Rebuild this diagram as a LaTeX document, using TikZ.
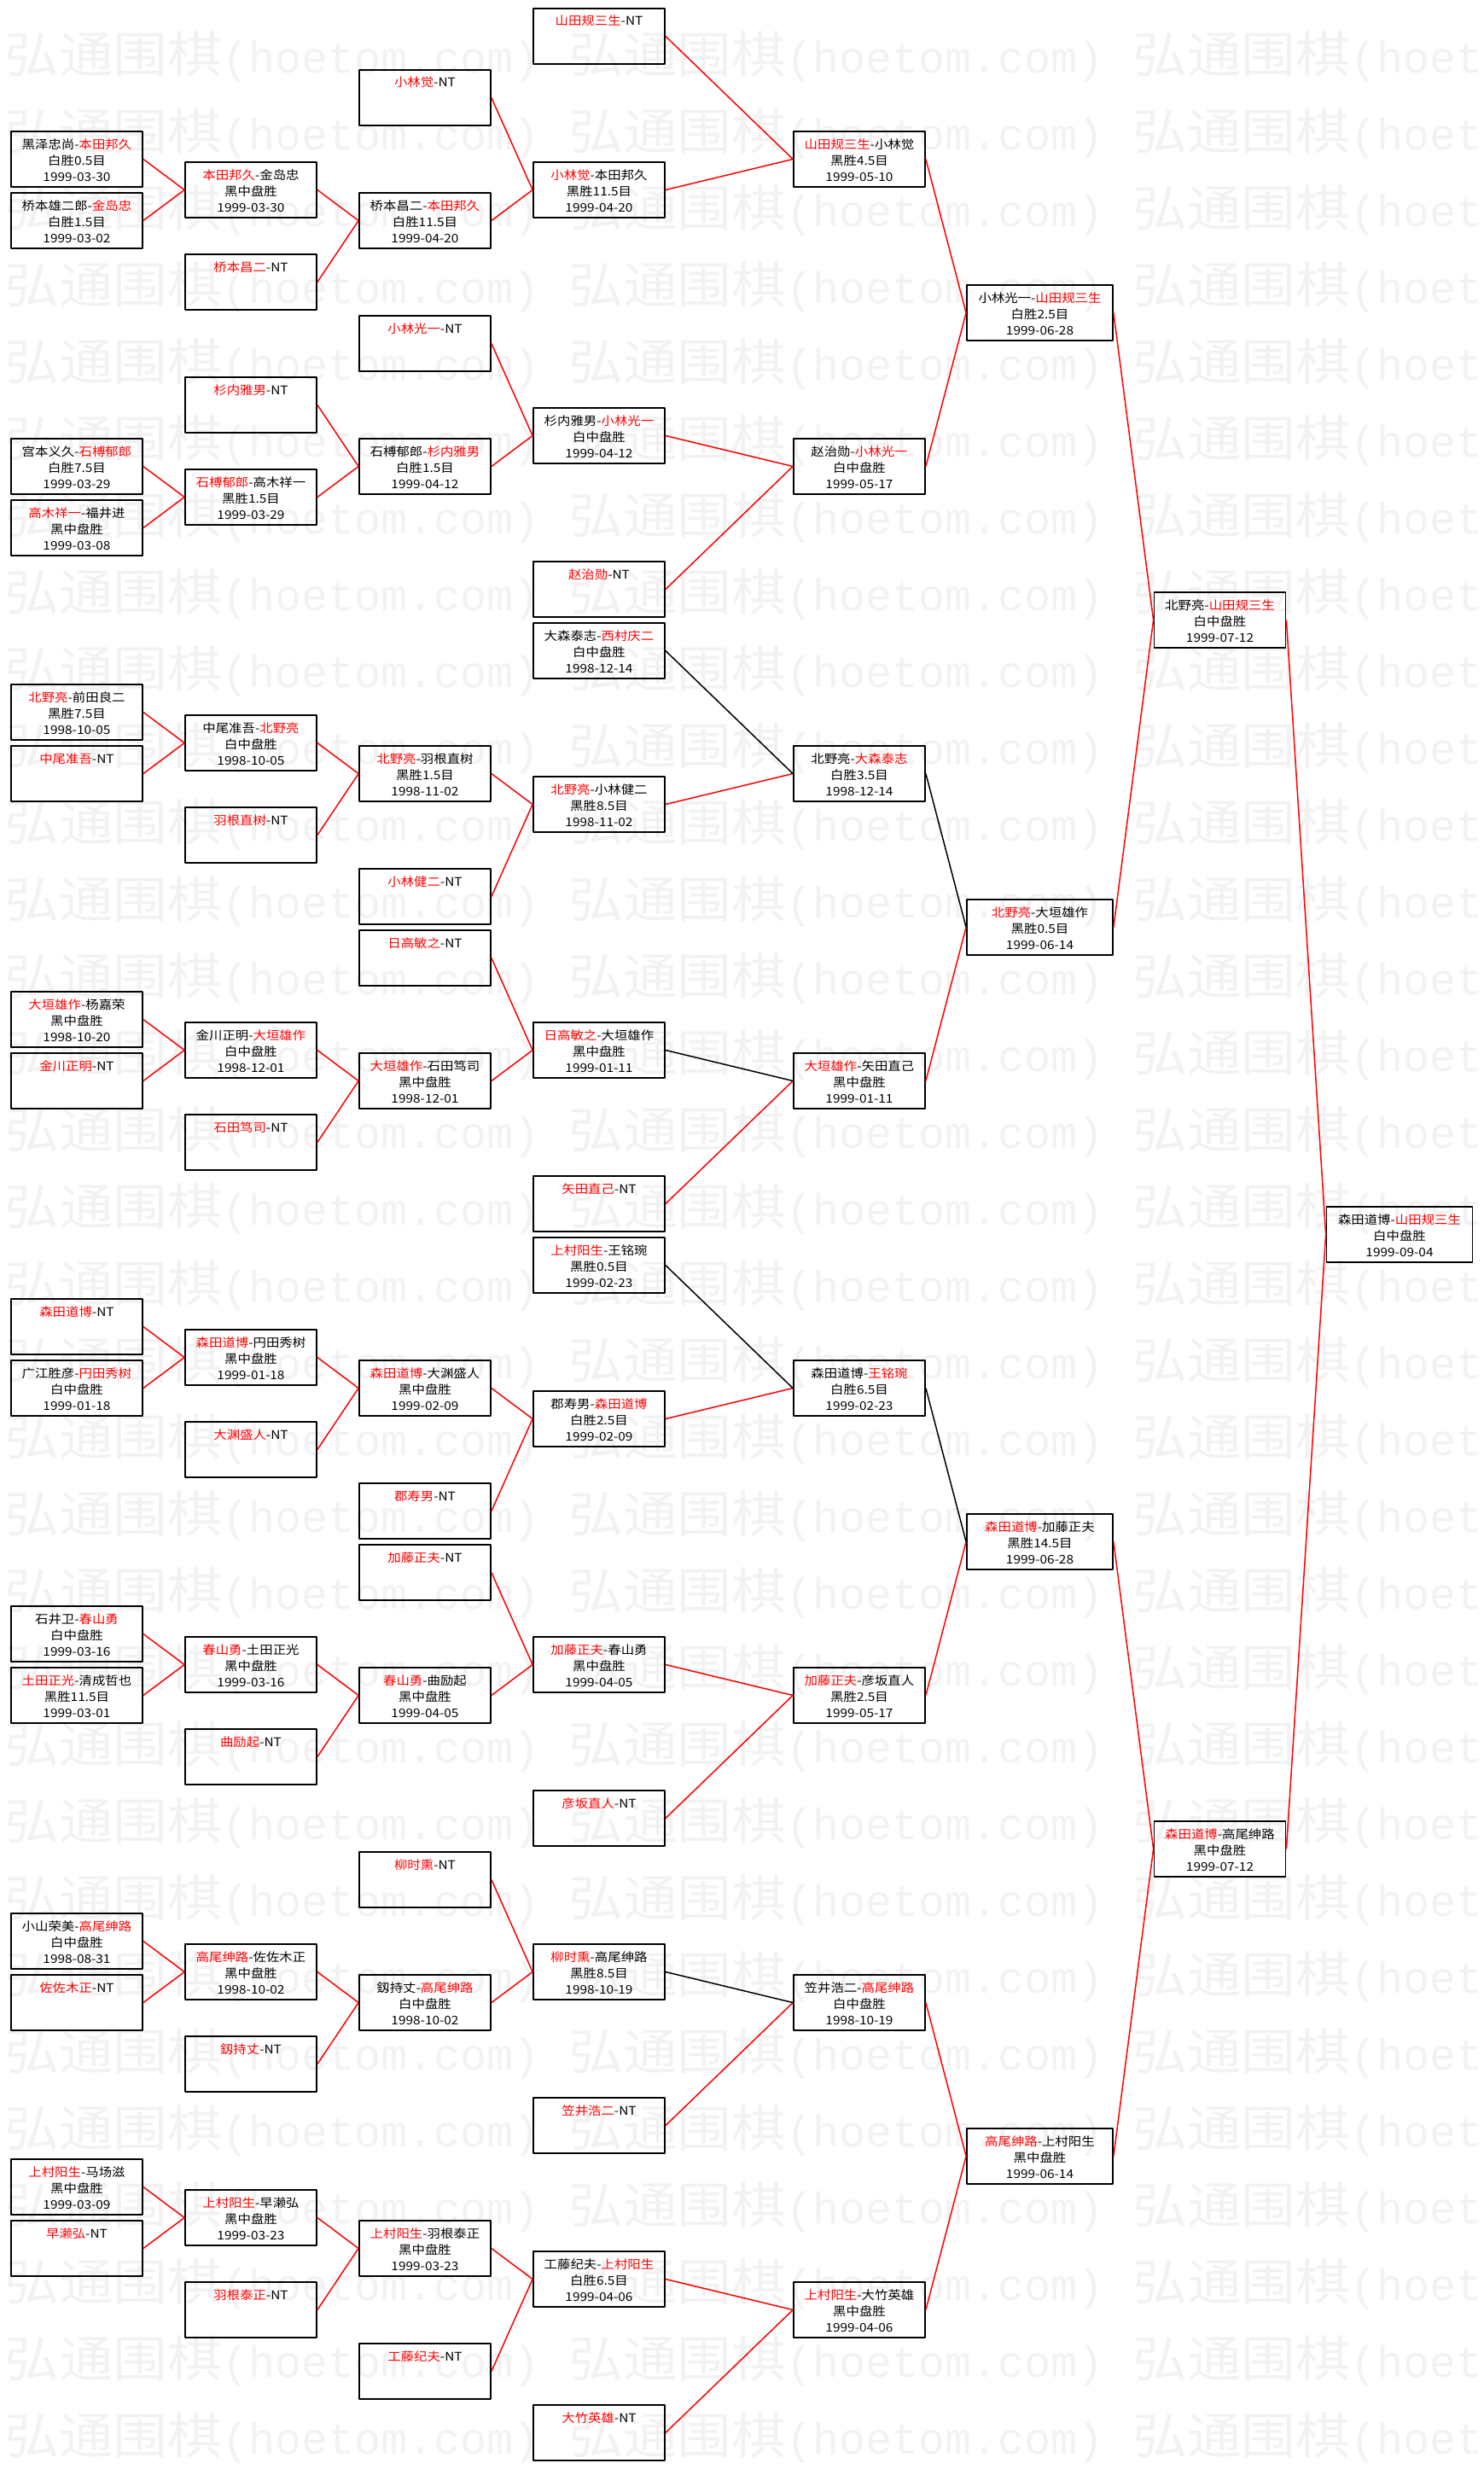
\documentclass[tikz,border=0pt]{standalone}
\usepackage{fontspec}
\setmainfont[FakeStretch=1.1]{Noto Sans CJK SC}
\newfontfamily\wmlatin{Liberation Mono}
\newcommand{\win}[1]{\textcolor{red}{#1}}
\newcommand{\lnstrut}{\rule[-1pt]{0pt}{15pt}}
\newcommand{\gm}[3]{\lnstrut#1\\\lnstrut#2\\\lnstrut#3}
\newcommand{\nt}[1]{\lnstrut\win{#1}-NT\\\lnstrut\\\lnstrut}
\tikzset{
  game/.style={draw,line width=1.8pt,minimum width=154pt,minimum height=65pt,inner sep=0pt,align=center,font=\fontsize{14}{19}\selectfont},
  widegame/.style={game,minimum width=171pt},
  won/.style={red,line width=1.5pt},
  lost/.style={black,line width=1.5pt},
  wmark/.style={black!5,inner sep=0pt,anchor=west,font=\fontsize{58}{60}\selectfont}
}
\begin{document}
\begin{tikzpicture}[x=1pt,y=-36pt,line join=round]
\useasboundingbox (0,-1.18056) rectangle (1738,79.18056);
% watermark
\foreach \k in {0,...,31}
  \foreach \j in {0,1,2}
    \node[wmark] (wm\k-\j) at ({5+661*\j},{2/3+2.5*\k}) {弘通围棋{\wmlatin\fontsize{51.7}{60}\selectfont(hoetom.com)}};

% round 1
\node[game] (c1r4) at (90,4) {\gm{黑泽忠尚-\win{本田邦久}}{白胜0.5目}{1999-03-30}};
\node[game] (c1r6) at (90,6) {\gm{桥本雄二郎-\win{金岛忠}}{白胜1.5目}{1999-03-02}};
\node[game] (c1r14) at (90,14) {\gm{宫本义久-\win{石榑郁郎}}{白胜7.5目}{1999-03-29}};
\node[game] (c1r16) at (90,16) {\gm{\win{高木祥一}-福井进}{黑中盘胜}{1999-03-08}};
\node[game] (c1r22) at (90,22) {\gm{\win{北野亮}-前田良二}{黑胜7.5目}{1998-10-05}};
\node[game] (c1r24) at (90,24) {\nt{中尾准吾}};
\node[game] (c1r32) at (90,32) {\gm{\win{大垣雄作}-杨嘉荣}{黑中盘胜}{1998-10-20}};
\node[game] (c1r34) at (90,34) {\nt{金川正明}};
\node[game] (c1r42) at (90,42) {\nt{森田道博}};
\node[game] (c1r44) at (90,44) {\gm{广江胜彦-\win{円田秀树}}{白中盘胜}{1999-01-18}};
\node[game] (c1r52) at (90,52) {\gm{石井卫-\win{春山勇}}{白中盘胜}{1999-03-16}};
\node[game] (c1r54) at (90,54) {\gm{\win{土田正光}-清成哲也}{黑胜11.5目}{1999-03-01}};
\node[game] (c1r62) at (90,62) {\gm{小山荣美-\win{高尾绅路}}{白中盘胜}{1998-08-31}};
\node[game] (c1r64) at (90,64) {\nt{佐佐木正}};
\node[game] (c1r70) at (90,70) {\gm{\win{上村阳生}-马场滋}{黑中盘胜}{1999-03-09}};
\node[game] (c1r72) at (90,72) {\nt{早濑弘}};

% round 2
\node[game] (c2r5) at (294,5) {\gm{\win{本田邦久}-金岛忠}{黑中盘胜}{1999-03-30}};
\node[game] (c2r8) at (294,8) {\nt{桥本昌二}};
\node[game] (c2r12) at (294,12) {\nt{杉内雅男}};
\node[game] (c2r15) at (294,15) {\gm{\win{石榑郁郎}-高木祥一}{黑胜1.5目}{1999-03-29}};
\node[game] (c2r23) at (294,23) {\gm{中尾准吾-\win{北野亮}}{白中盘胜}{1998-10-05}};
\node[game] (c2r26) at (294,26) {\nt{羽根直树}};
\node[game] (c2r33) at (294,33) {\gm{金川正明-\win{大垣雄作}}{白中盘胜}{1998-12-01}};
\node[game] (c2r36) at (294,36) {\nt{石田笃司}};
\node[game] (c2r43) at (294,43) {\gm{\win{森田道博}-円田秀树}{黑中盘胜}{1999-01-18}};
\node[game] (c2r46) at (294,46) {\nt{大渊盛人}};
\node[game] (c2r53) at (294,53) {\gm{\win{春山勇}-土田正光}{黑中盘胜}{1999-03-16}};
\node[game] (c2r56) at (294,56) {\nt{曲励起}};
\node[game] (c2r63) at (294,63) {\gm{\win{高尾绅路}-佐佐木正}{黑中盘胜}{1998-10-02}};
\node[game] (c2r66) at (294,66) {\nt{釼持丈}};
\node[game] (c2r71) at (294,71) {\gm{\win{上村阳生}-早濑弘}{黑中盘胜}{1999-03-23}};
\node[game] (c2r74) at (294,74) {\nt{羽根泰正}};

% round 3
\node[game] (c3r2) at (498,2) {\nt{小林觉}};
\node[game] (c3r6) at (498,6) {\gm{桥本昌二-\win{本田邦久}}{白胜11.5目}{1999-04-20}};
\node[game] (c3r10) at (498,10) {\nt{小林光一}};
\node[game] (c3r14) at (498,14) {\gm{石榑郁郎-\win{杉内雅男}}{白胜1.5目}{1999-04-12}};
\node[game] (c3r24) at (498,24) {\gm{\win{北野亮}-羽根直树}{黑胜1.5目}{1998-11-02}};
\node[game] (c3r28) at (498,28) {\nt{小林健二}};
\node[game] (c3r30) at (498,30) {\nt{日高敏之}};
\node[game] (c3r34) at (498,34) {\gm{\win{大垣雄作}-石田笃司}{黑中盘胜}{1998-12-01}};
\node[game] (c3r44) at (498,44) {\gm{\win{森田道博}-大渊盛人}{黑中盘胜}{1999-02-09}};
\node[game] (c3r48) at (498,48) {\nt{郡寿男}};
\node[game] (c3r50) at (498,50) {\nt{加藤正夫}};
\node[game] (c3r54) at (498,54) {\gm{\win{春山勇}-曲励起}{黑中盘胜}{1999-04-05}};
\node[game] (c3r60) at (498,60) {\nt{柳时熏}};
\node[game] (c3r64) at (498,64) {\gm{釼持丈-\win{高尾绅路}}{白中盘胜}{1998-10-02}};
\node[game] (c3r72) at (498,72) {\gm{\win{上村阳生}-羽根泰正}{黑中盘胜}{1999-03-23}};
\node[game] (c3r76) at (498,76) {\nt{工藤纪夫}};

% round 4
\node[game] (c4r0) at (702,0) {\nt{山田规三生}};
\node[game] (c4r5) at (702,5) {\gm{\win{小林觉}-本田邦久}{黑胜11.5目}{1999-04-20}};
\node[game] (c4r13) at (702,13) {\gm{杉内雅男-\win{小林光一}}{白中盘胜}{1999-04-12}};
\node[game] (c4r18) at (702,18) {\nt{赵治勋}};
\node[game] (c4r20) at (702,20) {\gm{大森泰志-\win{西村庆二}}{白中盘胜}{1998-12-14}};
\node[game] (c4r25) at (702,25) {\gm{\win{北野亮}-小林健二}{黑胜8.5目}{1998-11-02}};
\node[game] (c4r33) at (702,33) {\gm{\win{日高敏之}-大垣雄作}{黑中盘胜}{1999-01-11}};
\node[game] (c4r38) at (702,38) {\nt{矢田直己}};
\node[game] (c4r40) at (702,40) {\gm{\win{上村阳生}-王铭琬}{黑胜0.5目}{1999-02-23}};
\node[game] (c4r45) at (702,45) {\gm{郡寿男-\win{森田道博}}{白胜2.5目}{1999-02-09}};
\node[game] (c4r53) at (702,53) {\gm{\win{加藤正夫}-春山勇}{黑中盘胜}{1999-04-05}};
\node[game] (c4r58) at (702,58) {\nt{彦坂直人}};
\node[game] (c4r63) at (702,63) {\gm{\win{柳时熏}-高尾绅路}{黑胜8.5目}{1998-10-19}};
\node[game] (c4r68) at (702,68) {\nt{笠井浩二}};
\node[game] (c4r73) at (702,73) {\gm{工藤纪夫-\win{上村阳生}}{白胜6.5目}{1999-04-06}};
\node[game] (c4r78) at (702,78) {\nt{大竹英雄}};

% round 5
\node[game] (c5r4) at (1007,4) {\gm{\win{山田规三生}-小林觉}{黑胜4.5目}{1999-05-10}};
\node[game] (c5r14) at (1007,14) {\gm{赵治勋-\win{小林光一}}{白中盘胜}{1999-05-17}};
\node[game] (c5r24) at (1007,24) {\gm{北野亮-\win{大森泰志}}{白胜3.5目}{1998-12-14}};
\node[game] (c5r34) at (1007,34) {\gm{\win{大垣雄作}-矢田直己}{黑中盘胜}{1999-01-11}};
\node[game] (c5r44) at (1007,44) {\gm{森田道博-\win{王铭琬}}{白胜6.5目}{1999-02-23}};
\node[game] (c5r54) at (1007,54) {\gm{\win{加藤正夫}-彦坂直人}{黑胜2.5目}{1999-05-17}};
\node[game] (c5r64) at (1007,64) {\gm{笠井浩二-\win{高尾绅路}}{白中盘胜}{1998-10-19}};
\node[game] (c5r74) at (1007,74) {\gm{\win{上村阳生}-大竹英雄}{黑中盘胜}{1999-04-06}};

% quarter, semi, final
\node[widegame] (c6r9) at (1218.5,9) {\gm{小林光一-\win{山田规三生}}{白胜2.5目}{1999-06-28}};
\node[widegame] (c6r29) at (1218.5,29) {\gm{\win{北野亮}-大垣雄作}{黑胜0.5目}{1999-06-14}};
\node[widegame] (c6r49) at (1218.5,49) {\gm{\win{森田道博}-加藤正夫}{黑胜14.5目}{1999-06-28}};
\node[widegame] (c6r69) at (1218.5,69) {\gm{\win{高尾绅路}-上村阳生}{黑中盘胜}{1999-06-14}};
\node[game] (c7r19) at (1429.5,19) {\gm{北野亮-\win{山田规三生}}{白中盘胜}{1999-07-12}};
\node[game] (c7r59) at (1429.5,59) {\gm{\win{森田道博}-高尾绅路}{黑中盘胜}{1999-07-12}};
\node[widegame] (c8r39) at (1640,39) {\gm{森田道博-\win{山田规三生}}{白中盘胜}{1999-09-04}};

% connectors
\foreach \a/\b in {c1r4/c2r5,c1r6/c2r5,c2r5/c3r6,c2r8/c3r6,c3r2/c4r5,c3r6/c4r5,c4r0/c5r4,c4r5/c5r4,
  c1r14/c2r15,c1r16/c2r15,c2r12/c3r14,c2r15/c3r14,c3r10/c4r13,c3r14/c4r13,c4r13/c5r14,c4r18/c5r14,
  c1r22/c2r23,c1r24/c2r23,c2r23/c3r24,c2r26/c3r24,c3r24/c4r25,c3r28/c4r25,c4r25/c5r24,
  c1r32/c2r33,c1r34/c2r33,c2r33/c3r34,c2r36/c3r34,c3r30/c4r33,c3r34/c4r33,c4r38/c5r34,
  c1r42/c2r43,c1r44/c2r43,c2r43/c3r44,c2r46/c3r44,c3r44/c4r45,c3r48/c4r45,c4r45/c5r44,
  c1r52/c2r53,c1r54/c2r53,c2r53/c3r54,c2r56/c3r54,c3r50/c4r53,c3r54/c4r53,c4r53/c5r54,c4r58/c5r54,
  c1r62/c2r63,c1r64/c2r63,c2r63/c3r64,c2r66/c3r64,c3r60/c4r63,c3r64/c4r63,c4r68/c5r64,
  c1r70/c2r71,c1r72/c2r71,c2r71/c3r72,c2r74/c3r72,c3r72/c4r73,c3r76/c4r73,c4r73/c5r74,c4r78/c5r74,
  c5r4/c6r9,c5r14/c6r9,c5r34/c6r29,c5r54/c6r49,c5r64/c6r69,c5r74/c6r69,
  c6r9/c7r19,c6r29/c7r19,c6r49/c7r59,c6r69/c7r59,c7r19/c8r39,c7r59/c8r39}
  \draw[won] (\a.east)--(\b.west);
\foreach \a/\b in {c4r20/c5r24,c5r24/c6r29,c4r33/c5r34,c4r40/c5r44,c5r44/c6r49,c4r63/c5r64}
  \draw[lost] (\a.east)--(\b.west);
\end{tikzpicture}
\end{document}
